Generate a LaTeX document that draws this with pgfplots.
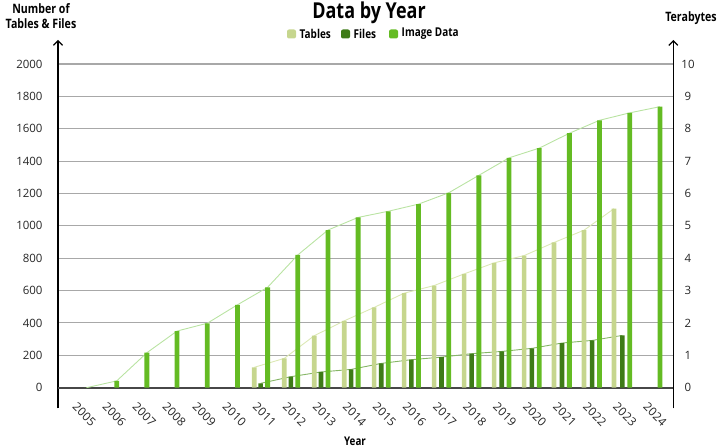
\documentclass[border=0pt]{standalone}
\usepackage{pgfplots}
\pgfplotsset{compat=1.18}
\usepackage{pgfplotstable}
\usetikzlibrary{arrows.meta}
\usepackage{fontspec}
\setmainfont{Open Sans}
\newfontfamily\condb[FakeStretch=0.82]{Open Sans}

\definecolor{tabc}{HTML}{C6D68E}
\definecolor{filc}{HTML}{3E7B17}
\definecolor{imgc}{HTML}{64BB23}
\definecolor{tabl}{HTML}{DCE8B4}
\definecolor{filline}{HTML}{86B666}
\definecolor{imgl}{HTML}{B9E3A2}
\definecolor{gridc}{HTML}{A8A8A8}

\tikzset{arrowline/.style={line width=1.4bp, black, -{Straight Barb[length=4.5bp, width=9bp, line width=1.2bp]}}}

\pgfplotstableread{
x v
2010.559 126
2011.552 181
2012.545 321
2013.539 413
2014.532 496
2015.525 584
2016.518 631
2017.512 703
2018.505 771
2019.498 816
2020.491 897
2021.485 973
2022.478 1106
}\tables

\pgfplotstableread{
x v
2010.771 27
2011.770 68
2012.768 97
2013.767 113
2014.765 150
2015.764 173
2016.762 189
2017.761 210
2018.759 224
2019.758 243
2020.756 276
2021.755 292
2022.753 323
}\files

\pgfplotstableread{
x v
2005 0
2006 0.21
2007 1.08
2008 1.75
2009 1.99
2010 2.56
2011 3.10
2012 4.10
2013 4.87
2014 5.26
2015 5.45
2016 5.67
2017 6.02
2018 6.56
2019 7.10
2020 7.40
2021 7.86
2022 8.26
2023 8.49
2024 8.68
}\images

\pgfplotsset{
  base/.style={
    scale only axis, width=615.3bp, height=368.3bp,
    xmin=2004.055, xmax=2024.443,
    at={(58bp,39.7bp)}, anchor=south west,
    major tick length=0pt,
    tick label style={font=\fontsize{11.5}{13}\selectfont, text=black!85},
    /pgf/number format/assume math mode=true,
    /pgf/number format/1000 sep={},
    clip=false,
  },
}

\begin{document}
\begin{tikzpicture}
\useasboundingbox (0,0) rectangle (720bp,448bp);

\begin{axis}[base,
  ymin=-127.3, ymax=2148,
  axis x line=bottom, axis y line=left,
  x axis line style={draw=none},
  y axis line style={arrowline},
  ytick={0,200,...,2000},
  xtick={2004.827,2005.822,2006.818,2007.813,2008.808,2009.803,2010.799,2011.794,2012.789,2013.784,2014.780,2015.775,2016.770,2017.765,2018.761,2019.756,2020.751,2021.746,2022.742,2023.737},
  xticklabels={2005,2006,2007,2008,2009,2010,2011,2012,2013,2014,2015,2016,2017,2018,2019,2020,2021,2022,2023,2024},
  xticklabel style={xshift=3bp, yshift=-6bp, rotate=-45, anchor=center, font=\fontsize{11.8}{13}\selectfont},
  yticklabel style={xshift=-12bp},
  ymajorgrids,
  major grid style={gridc, line width=1.1bp},
  extra y ticks={0}, extra y tick labels={},
  extra y tick style={major grid style={black!72, line width=1.7bp}},
]
\addplot[tabl, line width=0.9bp, no marks] table[x=x,y=v]{\tables};
\addplot[filline, line width=0.9bp, no marks] table[x=x,y=v]{\files};
\addplot[ybar, bar width=4.6bp, bar shift=0pt, fill=tabc, draw=none] table[x=x,y=v]{\tables};
\addplot[ybar, bar width=4.6bp, bar shift=0pt, fill=filc, draw=none] table[x=x,y=v]{\files};
\end{axis}

\begin{axis}[base,
  ymin=-0.6365, ymax=10.74,
  axis x line=none, axis y line=right,
  y axis line style={arrowline},
  ytick={0,1,...,10},
  yticklabel style={anchor=center, xshift=14.7bp},
]
\addplot[imgl, line width=0.9bp, no marks] table[x=x,y=v]{\images};
\addplot[ybar, bar width=4.8bp, bar shift=0pt, fill=imgc, draw=none] table[x=x,y=v]{\images};
\end{axis}

% titles and labels
\node[font=\condb\bfseries\fontsize{22}{24}\selectfont] at (369bp,435bp) {Data by Year};
\node[font=\condb\bfseries\fontsize{13}{15}\selectfont, align=center] at (41bp,432bp) {Number of\\Tables \& Files};
\node[font=\condb\bfseries\fontsize{13}{15}\selectfont] at (691bp,430bp) {Terabytes};
\node[font=\condb\bfseries\fontsize{12}{14}\selectfont] at (355bp,7bp) {Year};

% legend
\fill[tabc, rounded corners=2bp] (287bp,409.5bp) rectangle (296bp,418.5bp);
\node[anchor=west, inner sep=0pt, font=\condb\bfseries\fontsize{12.2}{14}\selectfont] at (299.5bp,414bp) {Tables};
\fill[filc, rounded corners=2bp] (341bp,409.5bp) rectangle (350bp,418.5bp);
\node[anchor=west, inner sep=0pt, font=\condb\bfseries\fontsize{12.2}{14}\selectfont] at (353.5bp,414bp) {Files};
\fill[imgc, rounded corners=2bp] (389bp,409.5bp) rectangle (398bp,418.5bp);
\node[anchor=west, inner sep=0pt, font=\condb\bfseries\fontsize{12.2}{14}\selectfont] at (401.5bp,414bp) {Image Data};
\end{tikzpicture}
\end{document}
